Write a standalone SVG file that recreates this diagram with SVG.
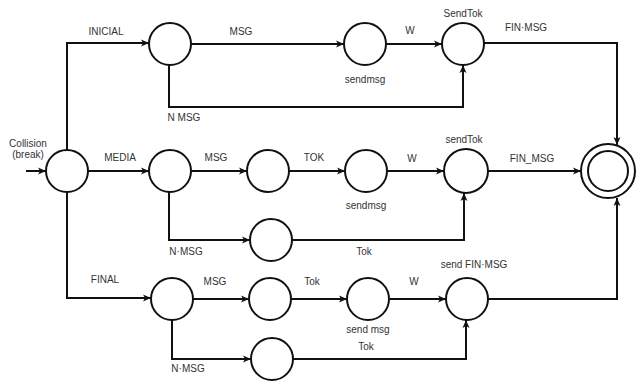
<svg xmlns="http://www.w3.org/2000/svg" width="639" height="381" viewBox="0 0 639 381">
<style>
.n{fill:#fff;stroke:#111;stroke-width:2}
.c{fill:none;stroke:#111;stroke-width:2}
text{font-family:"Liberation Sans",Arial,sans-serif;font-size:10px;fill:#333;text-anchor:middle}
</style>
<defs>
<marker id="a" markerUnits="userSpaceOnUse" markerWidth="9" markerHeight="8" refX="8" refY="4" orient="auto">
<path d="M0,0.5 L8,4 L0,7.5 L2,4 Z" fill="#111"/>
</marker>
</defs>
<rect width="639" height="381" fill="#fff"/>
<g id="connectors">
<path class="c" d="M26,171 H46" marker-end="url(#a)"/>
<path class="c" d="M67,150 V43 H149" marker-end="url(#a)"/>
<path class="c" d="M88,171 H149" marker-end="url(#a)"/>
<path class="c" d="M67,192 V298 H151" marker-end="url(#a)"/>
<path class="c" d="M191,44 H344" marker-end="url(#a)"/>
<path class="c" d="M386,44 H442" marker-end="url(#a)"/>
<path class="c" d="M169,65 V107 H463 V65" marker-end="url(#a)"/>
<path class="c" d="M484,43 H617 V145" marker-end="url(#a)"/>
<path class="c" d="M191,171 H247" marker-end="url(#a)"/>
<path class="c" d="M289,171 H345" marker-end="url(#a)"/>
<path class="c" d="M387,171 H444" marker-end="url(#a)"/>
<path class="c" d="M488,171 H581" marker-end="url(#a)"/>
<path class="c" d="M169,192 V240 H250" marker-end="url(#a)"/>
<path class="c" d="M292,240 H464 V193" marker-end="url(#a)"/>
<path class="c" d="M193,299 H249" marker-end="url(#a)"/>
<path class="c" d="M291,299 H347" marker-end="url(#a)"/>
<path class="c" d="M389,299 H446" marker-end="url(#a)"/>
<path class="c" d="M488,299 H617 V198" marker-end="url(#a)"/>
<path class="c" d="M172,320 V359 H251" marker-end="url(#a)"/>
<path class="c" d="M293,359 H466 V320" marker-end="url(#a)"/>
</g>
<g id="collision"><circle class="n" cx="67" cy="171" r="21"/></g>
<g id="i1"><circle class="n" cx="170" cy="44" r="21"/></g>
<g id="i2"><circle class="n" cx="365" cy="44" r="21"/></g>
<g id="i3"><circle class="n" cx="463" cy="44" r="21"/></g>
<g id="m1"><circle class="n" cx="170" cy="171" r="21"/></g>
<g id="m2"><circle class="n" cx="268" cy="171" r="21"/></g>
<g id="m3"><circle class="n" cx="366" cy="171" r="21"/></g>
<g id="m4"><circle class="n" cx="466" cy="171" r="22"/></g>
<g id="mn"><circle class="n" cx="271" cy="240" r="21"/></g>
<g id="f1"><circle class="n" cx="172" cy="299" r="21"/></g>
<g id="f2"><circle class="n" cx="270" cy="299" r="21"/></g>
<g id="f3"><circle class="n" cx="368" cy="299" r="21"/></g>
<g id="f4"><circle class="n" cx="467" cy="299" r="21"/></g>
<g id="fn"><circle class="n" cx="272" cy="359" r="21"/></g>
<g id="final"><circle class="n" cx="608" cy="171" r="27"/><circle class="n" cx="608" cy="171" r="20"/></g>
<g id="labels">
<text x="28" y="147">Collision</text>
<text x="28" y="158">(break)</text>
<text x="106" y="35">INICIAL</text>
<text x="241" y="35">MSG</text>
<text x="410" y="34">W</text>
<text x="365" y="83">sendmsg</text>
<text x="463" y="17">SendTok</text>
<text x="526" y="31">FIN·MSG</text>
<text x="184" y="121">N MSG</text>
<text x="120" y="161">MEDIA</text>
<text x="216" y="161">MSG</text>
<text x="314" y="161">TOK</text>
<text x="412" y="162">W</text>
<text x="366" y="209">sendmsg</text>
<text x="464" y="143">sendTok</text>
<text x="532" y="162">FIN_MSG</text>
<text x="186" y="255">N·MSG</text>
<text x="364" y="255">Tok</text>
<text x="105" y="283">FINAL</text>
<text x="215" y="285">MSG</text>
<text x="312" y="285">Tok</text>
<text x="414" y="285">W</text>
<text x="368" y="333">send msg</text>
<text x="474" y="268">send FIN·MSG</text>
<text x="366" y="350">Tok</text>
<text x="188" y="372">N·MSG</text>
</g>
</svg>
